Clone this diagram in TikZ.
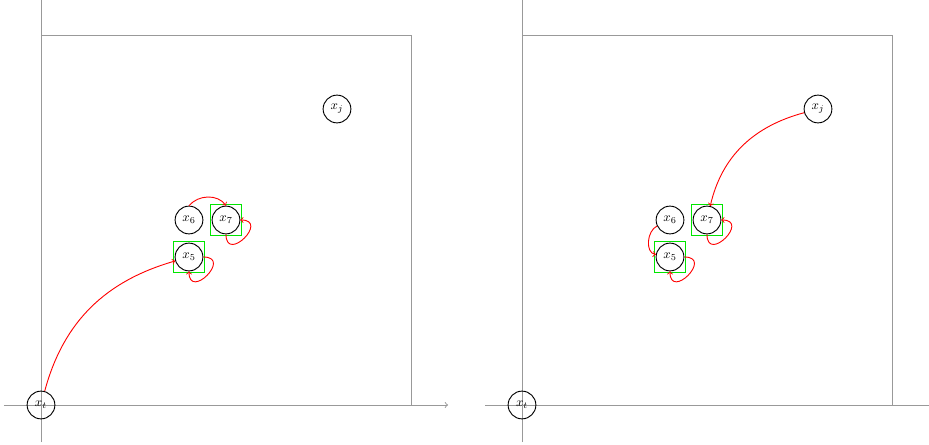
\documentclass[tikz,border=0pt]{standalone}
\begin{document}
\begin{tikzpicture}[x=1cm,y=1cm,
  axis/.style={gray!80, line width=0.75pt},
  frame/.style={gray!80, line width=0.75pt},
  state/.style={circle, draw=black, line width=0.7pt, minimum size=0.75cm, inner sep=0pt},
  markbox/.style={rectangle, draw={rgb,255:red,0;green,230;blue,0}, line width=0.9pt, minimum size=0.83cm, inner sep=0pt},
  redarrow/.style={->, red, line width=0.7pt},
  selfloop/.style={->, red, line width=0.7pt, looseness=3.7}]
\useasboundingbox (-1.108,-1.081) rectangle (24,10.946);
% ---------- left panel ----------
\begin{scope}
  \coordinate (Lxa) at (-1,0); \coordinate (Lxb) at (11,0);
  \coordinate (Lya) at (0,-1); \coordinate (Lyb) at (0,11.2);
  \draw[axis,->] (Lxa) -- (Lxb);
  \draw[axis,->] (Lya) -- (Lyb);
  \coordinate (Lf1) at (0,10); \coordinate (Lf2) at (10,10); \coordinate (Lf3) at (10,0);
  \draw[frame] (Lf1) -- (Lf2) -- (Lf3);
  \node[state] (Lxt) at (0,0) {$x_t$};
  \node[state] (Lxj) at (8,8) {$x_j$};
  \node[state] (Lx6) at (4,5) {$x_6$};
  \node[state] (Lx7) at (5,5) {$x_7$};
  \node[state] (Lx5) at (4,4) {$x_5$};
  \node[markbox] (Lb7) at (Lx7) {};
  \node[markbox] (Lb5) at (Lx5) {};
  \draw[redarrow] (Lxt) to[out=75,in=196] (Lx5);
  \draw[redarrow] (Lx6.north) to[out=50,in=125] (Lx7.north);
  \draw[selfloop] (Lx7) to[out=-90,in=0] (Lx7);
  \draw[selfloop] (Lx5) to[out=0,in=-90] (Lx5);
\end{scope}
% ---------- right panel ----------
\begin{scope}[xshift=13cm]
  \coordinate (Rxa) at (-1,0); \coordinate (Rxb) at (11.2,0);
  \coordinate (Rya) at (0,-1); \coordinate (Ryb) at (0,11.2);
  \draw[axis,->] (Rxa) -- (Rxb);
  \draw[axis,->] (Rya) -- (Ryb);
  \coordinate (Rf1) at (0,10); \coordinate (Rf2) at (10,10); \coordinate (Rf3) at (10,0);
  \draw[frame] (Rf1) -- (Rf2) -- (Rf3);
  \node[state] (Rxt) at (0,0) {$x_t$};
  \node[state] (Rxj) at (8,8) {$x_j$};
  \node[state] (Rx6) at (4,5) {$x_6$};
  \node[state] (Rx7) at (5,5) {$x_7$};
  \node[state] (Rx5) at (4,4) {$x_5$};
  \node[markbox] (Rb7) at (Rx7) {};
  \node[markbox] (Rb5) at (Rx5) {};
  \draw[redarrow] (Rxj) to[out=195,in=77] (Rx7);
  \draw[redarrow] (Rx6) to[out=205,in=170] (Rx5);
  \draw[selfloop] (Rx7) to[out=-90,in=0] (Rx7);
  \draw[selfloop] (Rx5) to[out=0,in=-90] (Rx5);
\end{scope}
\end{tikzpicture}
\end{document}
